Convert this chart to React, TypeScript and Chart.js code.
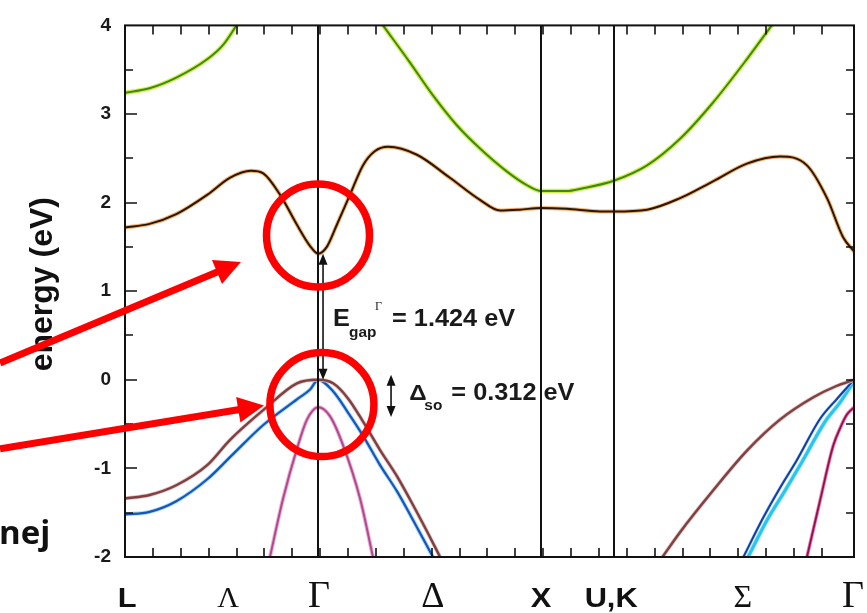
import React, { useEffect, useRef } from "react";
import { Chart, registerables } from "chart.js";

Chart.register(...registerables);

// ---- k-path (x axis, in units of 2π/a) ----
const kMax = 3.269;
const symmetryLines = [0.866, 1.866, 2.195];
const xMinorStep = 0.125;
const xLabels = ["L", "Λ", "Γ", "Δ", "X", "U,K", "Σ", "Γ"];
const xLabelPos = [0.01, 0.462, 0.87, 1.38, 1.866, 2.18, 2.77, 3.265];
const xLabelSerif = [false, true, true, true, false, false, true, true];
const xLabelSize = [28, 30, 38, 36, 28, 28, 32, 38];

// ---- energy axis (eV) ----
const yMin = -2;
const yMax = 4;
const yMinorStep = 0.5;

// ---- bands (k, E) ----
// upper conduction band (green), L side
const cb2aK = [0, 0.11, 0.23, 0.37, 0.44, 0.5];
const cb2aE = [3.24, 3.29, 3.41, 3.62, 3.78, 4.0];
// upper conduction band (green), Γ–X–U,K–Γ
const cb2bK = [1.157, 1.278, 1.381, 1.489, 1.592, 1.713, 1.8, 1.866, 1.98, 2.05, 2.195, 2.341, 2.489, 2.637, 2.789, 2.9];
const cb2bE = [4.0, 3.58, 3.21, 2.87, 2.61, 2.35, 2.2, 2.13, 2.13, 2.16, 2.25, 2.42, 2.72, 3.13, 3.62, 4.0];
// lowest conduction band (dark / orange)
const cb1K = [0, 0.11, 0.23, 0.37, 0.47, 0.565, 0.62, 0.695, 0.771, 0.83, 0.866, 0.905, 0.95, 1.009, 1.067, 1.12, 1.18, 1.309, 1.457, 1.592, 1.682, 1.77, 1.866, 1.982, 2.13, 2.195, 2.341, 2.489, 2.637, 2.789, 2.937, 3.058, 3.148, 3.22, 3.269];
const cb1E = [1.72, 1.76, 1.87, 2.09, 2.28, 2.36, 2.33, 2.09, 1.75, 1.51, 1.424, 1.5, 1.75, 2.09, 2.42, 2.58, 2.63, 2.54, 2.28, 2.03, 1.91, 1.92, 1.94, 1.93, 1.9, 1.9, 1.92, 2.05, 2.24, 2.44, 2.52, 2.42, 2.05, 1.61, 1.45];
// heavy hole (maroon), L–Γ–Δ
const hhaK = [0, 0.11, 0.23, 0.37, 0.47, 0.63, 0.771, 0.866, 0.933, 1.0, 1.067, 1.143, 1.22, 1.28, 1.354, 1.413];
const hhaE = [-1.34, -1.3, -1.19, -0.96, -0.68, -0.32, -0.04, 0, -0.04, -0.21, -0.47, -0.79, -1.09, -1.36, -1.71, -2.0];
// heavy hole (maroon), Σ–Γ
const hhbK = [2.41, 2.489, 2.637, 2.789, 2.937, 3.085, 3.19, 3.269];
const hhbE = [-2.0, -1.72, -1.25, -0.8, -0.45, -0.2, -0.07, 0];
// light hole (blue), L–Γ–Δ
const lhaK = [0, 0.11, 0.23, 0.37, 0.48, 0.62, 0.771, 0.83, 0.866, 0.933, 1.0, 1.067, 1.143, 1.22, 1.278, 1.381];
const lhaE = [-1.52, -1.49, -1.37, -1.12, -0.85, -0.51, -0.22, -0.11, 0, -0.13, -0.37, -0.63, -0.96, -1.26, -1.52, -2.0];
// light hole (blue), Σ–Γ
const lhbK = [2.773, 2.861, 2.937, 3.012, 3.117, 3.191, 3.269];
const lhbE = [-2.0, -1.56, -1.22, -0.91, -0.44, -0.22, 0];
// companion band (cyan), Σ–Γ
const lhcK = [2.794, 2.88, 2.96, 3.035, 3.14, 3.205, 3.269];
const lhcE = [-2.0, -1.58, -1.25, -0.93, -0.47, -0.26, -0.02];
// split-off band (pink), around Γ
const soaK = [0.65, 0.709, 0.771, 0.816, 0.866, 0.919, 0.978, 1.054, 1.112];
const soaE = [-2.0, -1.34, -0.78, -0.45, -0.31, -0.41, -0.74, -1.34, -2.0];
// split-off band (pink), Σ–Γ
const sobK = [3.058, 3.117, 3.175, 3.206, 3.238, 3.269];
const sobE = [-2.0, -1.36, -0.75, -0.55, -0.39, -0.31];

// ---- annotations (data units) ----
const gapArrow = { k: 0.888, from: 1.424, to: 0 };
const soArrow = { k: 1.193, from: 0.056, to: -0.42 };
const gapText = { k: 0.933, e: 0.603 };
const soText = { k: 1.275, e: -0.223 };
const redCircles = [
  { k: 0.8655, e: 1.63, r: 51.5 },
  { k: 0.883, e: -0.28, r: 52 },
];
const redArrows = [
  { k0: -0.5605, e0: 0.19, k1: 0.52, e1: 1.33 },
  { k0: -0.5605, e0: -0.78, k1: 0.623, e1: -0.29 },
];

const SANS = "'Liberation Sans', Arial, Helvetica, sans-serif";
const SERIF = "'Liberation Serif', 'Times New Roman', serif";

function pts(k: number[], e: number[]) {
  return k.map((x, i) => ({ x, y: e[i] }));
}

// returns [halo, core] in bottom-to-top drawing order
function band(k: number[], e: number[], core: string, halo: string, wCore: number, wHalo: number) {
  return [
    { data: pts(k, e), borderColor: halo, borderWidth: wHalo, pointRadius: 0, fill: false },
    { data: pts(k, e), borderColor: core, borderWidth: wCore, pointRadius: 0, fill: false },
  ];
}

function sText(ctx: CanvasRenderingContext2D, text: string, x: number, y: number, font: string, align: CanvasTextAlign, sx = 1.1) {
  ctx.save();
  ctx.font = font;
  ctx.textAlign = align;
  ctx.textBaseline = "alphabetic";
  ctx.translate(x, y);
  ctx.scale(sx, 1);
  ctx.fillText(text, 0, 0);
  ctx.restore();
}

function arrowHead(ctx: CanvasRenderingContext2D, x0: number, y0: number, x1: number, y1: number, len: number, half: number) {
  const a = Math.atan2(y1 - y0, x1 - x0);
  const bx = x1 - len * Math.cos(a);
  const by = y1 - len * Math.sin(a);
  ctx.beginPath();
  ctx.moveTo(x1, y1);
  ctx.lineTo(bx + half * Math.sin(a), by - half * Math.cos(a));
  ctx.lineTo(bx - half * Math.sin(a), by + half * Math.cos(a));
  ctx.closePath();
  ctx.fill();
}

const decorPlugin = {
  id: "bandDecor",
  afterDatasetsDraw(chart: any) {
    const { ctx, chartArea } = chart;
    const { left, right, top, bottom } = chartArea;
    const xs = chart.scales.x;
    const ys = chart.scales.y;
    const X = (k: number) => xs.getPixelForValue(k);
    const Y = (e: number) => ys.getPixelForValue(e);
    ctx.save();
    ctx.strokeStyle = "#111";
    ctx.fillStyle = "#111";
    ctx.lineWidth = 2;
    // symmetry lines
    for (const k of symmetryLines) {
      const px = Math.round(X(k));
      ctx.beginPath();
      ctx.moveTo(px, top);
      ctx.lineTo(px, bottom);
      ctx.stroke();
    }
    // frame
    ctx.strokeRect(left, top, right - left, bottom - top);
    // x minor ticks (inward, top and bottom)
    ctx.lineWidth = 1.6;
    for (let v = xMinorStep; v < kMax - 0.02; v += xMinorStep) {
      const px = Math.round(X(v));
      ctx.beginPath();
      ctx.moveTo(px, bottom);
      ctx.lineTo(px, bottom - 9);
      ctx.moveTo(px, top);
      ctx.lineTo(px, top + 9);
      ctx.stroke();
    }
    // y ticks (inward, left and right)
    for (let e = yMin + yMinorStep; e < yMax - 0.01; e += yMinorStep) {
      const py = Math.round(Y(e));
      const major = Math.abs(e - Math.round(e)) < 1e-6;
      ctx.beginPath();
      ctx.moveTo(left, py);
      ctx.lineTo(left + (major ? 12 : 8), py);
      ctx.moveTo(right, py);
      ctx.lineTo(right - 8, py);
      ctx.stroke();
    }
    // black double arrows
    ctx.lineWidth = 1.6;
    for (const a of [gapArrow, soArrow]) {
      const px = X(a.k);
      const y0 = Y(a.from);
      const y1 = Y(a.to);
      ctx.beginPath();
      ctx.moveTo(px, y0 + 8);
      ctx.lineTo(px, y1 - 8);
      ctx.stroke();
      arrowHead(ctx, px, y1, px, y0, 11, 4.5);
      arrowHead(ctx, px, y0, px, y1, 11, 4.5);
    }
    // annotation text
    ctx.fillStyle = "#1a1a1a";
    const gx = X(gapText.k);
    const gy = Y(gapText.e);
    sText(ctx, "E", gx, gy, `bold 23px ${SANS}`, "left");
    sText(ctx, "gap", gx + 16, gy + 11, `bold 14px ${SANS}`, "left");
    sText(ctx, "Γ", gx + 42, gy - 16, `12px ${SERIF}`, "left", 1);
    sText(ctx, "= 1.424 eV", gx + 59, gy, `bold 23px ${SANS}`, "left");
    const sx = X(soText.k);
    const sy = Y(soText.e);
    sText(ctx, "Δ", sx, sy, `bold 22px ${SANS}`, "left");
    sText(ctx, "so", sx + 15, sy + 10, `bold 14px ${SANS}`, "left");
    sText(ctx, "= 0.312 eV", sx + 42, sy, `bold 23px ${SANS}`, "left");

    // x labels
    ctx.fillStyle = "#111";
    xLabels.forEach((lab, i) => {
      const px = X(xLabelPos[i]);
      const serif = xLabelSerif[i];
      const font = serif ? `${xLabelSize[i]}px ${SERIF}` : `bold ${xLabelSize[i]}px ${SANS}`;
      sText(ctx, lab, px, bottom + 50, font, "center", serif ? 1 : 1.1);
    });

    // y title
    ctx.save();
    ctx.translate(43, (top + bottom) / 2 - 7);
    ctx.rotate(-Math.PI / 2);
    ctx.font = `bold 32px ${SANS}`;
    ctx.textAlign = "center";
    ctx.textBaseline = "middle";
    ctx.fillStyle = "#111";
    ctx.fillText("energy (eV)", 0, 0);
    ctx.restore();

    // cropped slide text
    ctx.fillStyle = "#111";
    ctx.font = `bold 33px 'Open Sans', sans-serif`;
    ctx.textAlign = "left";
    ctx.textBaseline = "alphabetic";
    ctx.fillText("nej", -1, Y(-1.85));

    // red highlights
    ctx.strokeStyle = "#ff0000";
    ctx.fillStyle = "#ff0000";
    ctx.lineWidth = 7.5;
    for (const c of redCircles) {
      ctx.beginPath();
      ctx.arc(X(c.k), Y(c.e), c.r, 0, Math.PI * 2);
      ctx.stroke();
    }
    ctx.lineWidth = 7;
    ctx.lineCap = "butt";
    for (const a of redArrows) {
      const x0 = X(a.k0), y0 = Y(a.e0), x1 = X(a.k1), y1 = Y(a.e1);
      const ang = Math.atan2(y1 - y0, x1 - x0);
      ctx.beginPath();
      ctx.moveTo(x0, y0);
      ctx.lineTo(x1 - 20 * Math.cos(ang), y1 - 20 * Math.sin(ang));
      ctx.stroke();
      arrowHead(ctx, x0, y0, x1, y1, 26, 13);
    }
    ctx.restore();
  },
};

export default function App() {
  const ref = useRef<HTMLCanvasElement | null>(null);
  useEffect(() => {
    if (!ref.current) return;
    // bottom-to-top order; Chart.js draws dataset 0 last (on top), so reverse
    const drawOrder: any[] = [
      ...band(cb2aK, cb2aE, "#3f8a14", "#d2ee4c", 2, 4.5),
      ...band(cb2bK, cb2bE, "#3f8a14", "#d2ee4c", 2, 4.5),
      ...band(cb1K, cb1E, "#2a1606", "#f4b06a", 2, 4),
      ...band(soaK, soaE, "#b04a8c", "#eab0d8", 2, 4),
      ...band(sobK, sobE, "#8a1448", "#f07ab4", 1.8, 3.6),
      ...band(lhcK, lhcE, "#28c6ec", "#9be6f8", 3, 4.5),
      ...band(lhaK, lhaE, "#1a54b8", "#a0d8f4", 2.2, 4),
      ...band(lhbK, lhbE, "#1a3aa0", "#a0d8f4", 2, 3.2),
      ...band(hhaK, hhaE, "#7e4040", "#e0c0c0", 2.4, 4),
      ...band(hhbK, hhbE, "#7e4040", "#e0c0c0", 2.4, 4),
    ];
    const datasets = drawOrder.slice().reverse();
    const chart = new Chart(ref.current, {
      type: "line",
      data: { datasets },
      options: {
        responsive: false,
        animation: false,
        devicePixelRatio: 1,
        layout: { padding: { left: 65, right: 13, top: 19, bottom: 56 } },
        plugins: { legend: { display: false }, tooltip: { enabled: false } },
        elements: {
          point: { radius: 0 },
          line: { cubicInterpolationMode: "monotone", borderCapStyle: "round", borderJoinStyle: "round" },
        },
        scales: {
          x: {
            type: "linear",
            min: 0,
            max: kMax,
            grid: { display: false, drawTicks: false },
            border: { display: false },
            ticks: { display: false },
            afterFit: (s: any) => {
              s.height = 0;
            },
          },
          y: {
            type: "linear",
            min: yMin,
            max: yMax,
            grid: { display: false, drawTicks: false },
            border: { display: false },
            ticks: {
              stepSize: 1,
              padding: 14,
              color: "#1a1a1a",
              font: { family: SANS, size: 19, weight: "bold" },
            },
            afterFit: (s: any) => {
              s.width = 60;
            },
          },
        },
      } as any,
      plugins: [decorPlugin],
    });
    return () => chart.destroy();
  }, []);
  return (
    <div style={{ position: "fixed", left: 0, top: 0, width: 867, height: 613, background: "#fff" }}>
      <canvas ref={ref} width={867} height={613} style={{ display: "block" }} />
    </div>
  );
}
